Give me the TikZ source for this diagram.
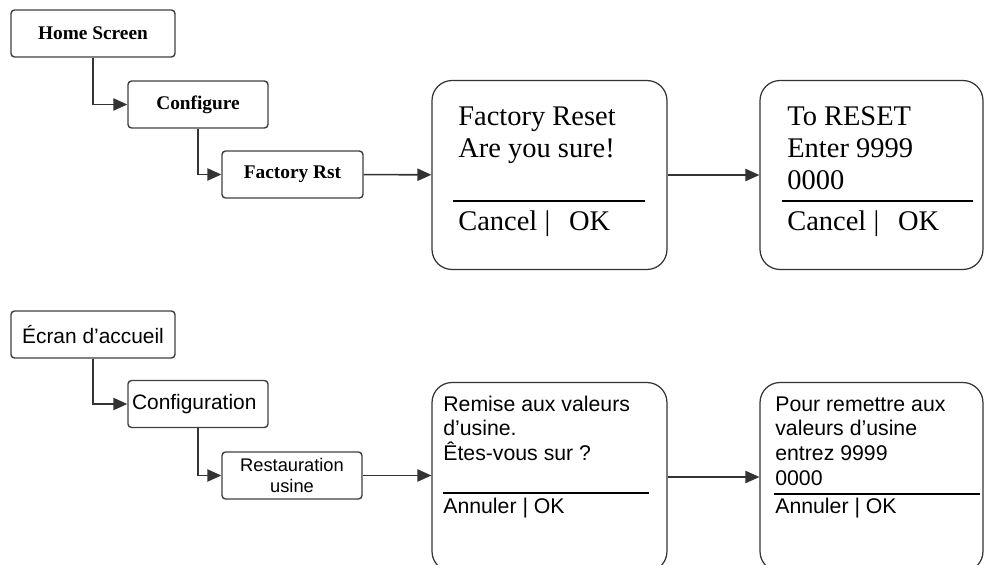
\documentclass[tikz,border=0pt]{standalone}
\usepackage{fontspec}
\setmainfont{Liberation Sans}
\newfontfamily\timesfont{Liberation Serif}
\usetikzlibrary{arrows.meta}

\def\bigserif{\timesfont\fontsize{16.2pt}{18.1pt}\selectfont}
\def\smallserif{\timesfont\bfseries\fontsize{11pt}{13pt}\selectfont}
\def\bigsans{\fontsize{12.1pt}{14pt}\selectfont}
\def\smallsans{\fontsize{11.9pt}{13pt}\selectfont}

\begin{document}
\begin{tikzpicture}[x=0.02cm, y=-0.02cm]
			\tikzset{menu/.style={draw=black!75, line width=.8pt, rounded corners=2pt, fill=white, inner sep=0pt, minimum height=.94cm},
				screen/.style={draw=black!80, line width=.7pt, rounded corners=.4cm, fill=white, inner sep=0pt, minimum height=3.78cm},
				txt/.style={anchor=base west, inner sep=0pt},
				link/.style={draw=black!80, line width=.9pt, -{Triangle[length=8pt, width=7pt]}},
				rule/.style={line width=1.6pt}}
			\useasboundingbox (0,0) rectangle (985,565);
			% english menu
			\node[menu, minimum width=3.28cm, font=\smallserif](home) at (93,33.5){Home Screen\hspace{.1cm}};
			\node[menu, minimum width=2.8cm, font=\smallserif](conf) at (198,104.5){Configure\hspace{.15cm}};
			\node[menu, minimum width=2.82cm, font=\smallserif](rst) at (292.5,174.5){Factory Rst};
			\node[screen, minimum width=4.7cm](sure) at (549.5,175){};
			\node[screen, minimum width=4.46cm](code) at (871.5,175){};
			\node[txt, font=\bigserif](sure1) at (458,125){Factory Reset};
			\node[txt, font=\bigserif](sure2) at (458,157){Are you sure!};
			\node[txt, font=\bigserif](sure3) at (458,230){Cancel |\hspace{.38cm}OK};
			\draw[rule](453,201)--(645,201);
			\node[txt, font=\bigserif](code1) at (787,125){To RESET};
			\node[txt, font=\bigserif](code2) at (787,157){Enter 9999};
			\node[txt, font=\bigserif](code3) at (787,189){0000};
			\node[txt, font=\bigserif](code4) at (787,230){Cancel |\hspace{.38cm}OK};
			\draw[rule](782,201)--(973,201);
			\draw[link](home) |- (conf);
			\draw[link](conf) |- (rst);
			\draw[link](rst)--(sure);
			\draw[link](sure)--(code);
			% french menu
			\node[menu, minimum width=3.28cm, font=\smallsans](accueil) at (93,334.5){Écran d’accueil\hspace{.05cm}};
			\node[menu, minimum width=2.8cm, font=\smallsans](config) at (198,404){\hspace{-.15cm}Configuration\hspace{.1cm}};
			\node[menu, minimum width=2.8cm, align=center, font=\fontsize{10.4pt}{11.9pt}\selectfont](usine) at (292,475.5){Restauration\\usine};
			\node[screen, minimum width=4.7cm](remise) at (549.5,477){};
			\node[screen, minimum width=4.46cm](entrez) at (871.5,477){};
			\node[txt, font=\bigsans](remise1) at (443,411){Remise aux valeurs};
			\node[txt, font=\bigsans](remise2) at (443,435){d’usine.};
			\node[txt, font=\bigsans](remise3) at (443,460){Êtes-vous sur ?};
			\node[txt, font=\bigsans](remise4) at (443,513){Annuler | OK};
			\draw[line width=1.1pt](443,493)--(649,493);
			\node[txt, font=\bigsans](entrez1) at (775,411){Pour remettre aux};
			\node[txt, font=\bigsans](entrez2) at (775,435){valeurs d’usine};
			\node[txt, font=\bigsans](entrez3) at (775,460){entrez 9999};
			\node[txt, font=\bigsans](entrez4) at (775,485){0000};
			\node[txt, font=\bigsans](entrez5) at (775,513){Annuler | OK};
			\draw[line width=1.1pt](774,494)--(980,494);
			\draw[link](accueil) |- (config);
			\draw[link](config) |- (usine);
			\draw[link](usine)--(usine -| remise.west);
			\draw[link](remise)--(entrez);
		\end{tikzpicture}
\end{document}
